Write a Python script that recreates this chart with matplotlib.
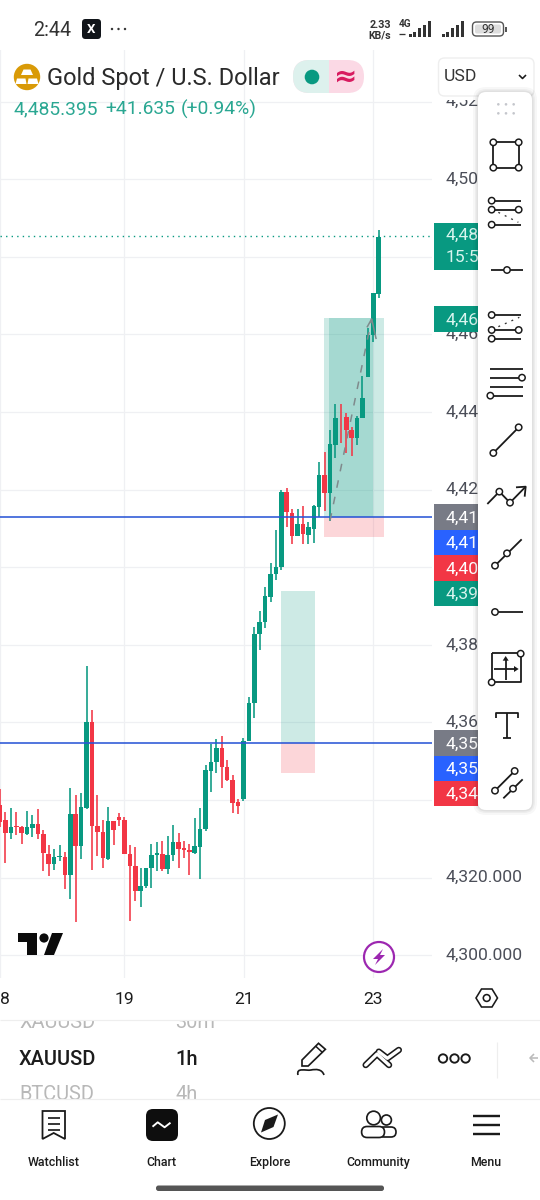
import matplotlib
matplotlib.use("Agg")
import matplotlib.pyplot as plt
from matplotlib.patches import Rectangle, Circle, FancyBboxPatch, Polygon, PathPatch
from matplotlib.path import Path

plt.rcParams['font.family'] = ['Roboto', 'DejaVu Sans']

# ---------- data ----------
opens = [4338.7,4334.9,4331.6,4333.4,4333.1,4331.3,4332.9,4333.8,4331.2,4326.2,4323.4,4325.3,4325.4,4320.7,4336.5,4328.2,
         4338.0,4360.2,4333.3,4331.9,4324.9,4334.7,4335.6,4334.9,4326.2,4323.0,4316.5,4317.9,4322.4,4325.8,4326.2,4322.2,
         4325.8,4329.3,4327.6,4327.2,4326.3,4328.0,4332.5,4347.6,4349.7,4353.4,4348.5,4345.2,4339.6,4340.4,4355.1,4364.9,
         4382.8,4385.8,4392.4,4398.3,4400.0,4419.3,4414.1,4408.1,4411.1,4408.3,4409.9,4415.6,4423.8,4419.2,4431.6,4438.8,
         4438.6,4435.4,4433.3,4438.4,4449.1,4459.9,4470.3]
highs = [4342.9,4337.0,4337.9,4336.9,4333.3,4337.2,4336.2,4337.6,4332.3,4328.3,4327.3,4328.5,4326.5,4343.0,4341.3,4341.8,
         4374.6,4363.3,4341.3,4334.9,4338.3,4334.7,4336.8,4335.7,4328.4,4328.0,4322.4,4322.6,4328.7,4329.3,4329.5,4330.8,
         4333.5,4331.6,4329.4,4328.7,4335.5,4337.9,4349.0,4354.5,4355.8,4356.4,4350.3,4346.4,4340.2,4355.9,4366.5,4384.7,
         4388.6,4394.8,4401.0,4409.6,4419.9,4420.3,4414.9,4414.9,4415.9,4411.6,4416.0,4427.2,4429.6,4435.5,4442.2,4442.2,
         4439.8,4436.1,4439.0,4449.3,4461.6,4470.6,4486.9]
lows = [4333.1,4323.9,4330.0,4331.0,4328.7,4331.0,4330.6,4330.0,4321.6,4320.5,4321.9,4324.4,4317.2,4314.5,4308.5,4324.9,
        4337.7,4322.0,4325.7,4322.6,4324.6,4328.4,4333.4,4326.0,4308.8,4314.1,4312.5,4317.3,4317.4,4321.6,4321.6,4320.9,
        4324.4,4322.4,4325.0,4320.7,4326.0,4319.7,4332.1,4342.1,4346.9,4343.0,4345.0,4336.8,4336.4,4339.8,4355.1,4361.2,
        4378.7,4384.3,4391.1,4396.7,4399.3,4410.5,4406.0,4408.1,4406.0,4406.0,4406.3,4412.9,4414.6,4411.8,4428.1,4432.1,
        4429.4,4428.8,4431.5,4438.4,4449.1,4458.1,4469.5]
closes = [4334.4,4331.6,4333.1,4333.1,4331.6,4333.1,4333.8,4331.2,4326.3,4323.4,4325.3,4325.7,4320.7,4336.5,4328.2,4338.2,
          4360.2,4333.3,4331.7,4325.0,4334.7,4332.3,4334.8,4326.1,4323.0,4316.5,4317.9,4322.6,4325.9,4326.3,4322.2,4325.9,
          4329.3,4327.4,4327.2,4326.5,4328.2,4332.6,4347.8,4349.7,4353.5,4348.4,4345.1,4339.3,4338.5,4355.1,4365.1,4382.8,
          4386.0,4392.6,4398.3,4400.0,4419.3,4414.2,4408.1,4411.1,4408.6,4410.3,4415.8,4423.8,4419.2,4431.8,4438.5,4438.6,
          4435.4,4433.3,4438.5,4443.6,4459.9,4470.6,4485.2]

price_ticks = [4520,4500,4480,4460,4440,4420,4400,4380,4360,4340,4320,4300]
price_labels = ['4,52','4,50','','4,46','4,44','4,42','','4,38','4,36','','4,320.000','4,300.000']
date_ticks = [0.0,23.0,45.05,69.0]
date_labels = ['8','19','21','23']
last_price = 4485.395
levels = [4413.0,4354.7]
long1 = dict(left=59.9,right=71.0,entry=4413.0,target=4464.2,stop=4407.9)
long1b = dict(left=60.8,right=69.0)
long2 = dict(left=51.9,right=58.2,entry=4354.7,target=4394.0,stop=4347.0)
arrow_from = (61.0,4412.0)
arrow_to = (68.7,4464.0)

TEAL='#089981'; RED='#F23645'; BLUE='#2962FF'; GREY='#787B86'; INK='#131722'; TICK='#4b4e58'

fig = plt.figure(figsize=(5.4,12),dpi=100,facecolor='white')
W,H = 540.,1200.
# ---------- chart axes ----------
CR,CT,CB = 432.,50.,978.
ax = fig.add_axes([0,1-CB/H,CR/W,(CB-CT)/H],zorder=1)
ax.set_xlim(0,CR/5.41)
ax.set_ylim(4294.15,4533.3)
for s in ax.spines.values(): s.set_visible(False)
ax.set_yticks(price_ticks); ax.set_yticklabels(price_labels)
ax.set_xticks(date_ticks); ax.set_xticklabels(date_labels)
ax.get_xticklabels()[0].set_ha('left')
ax.yaxis.tick_right()
ax.tick_params(axis='y',length=0,pad=10,labelsize=12.6,labelcolor=TICK)
ax.tick_params(axis='x',length=0,pad=10,labelsize=12.6,labelcolor='#1c1c1c')
for l in ax.get_yticklabels(): l.set_va('center')
ax.grid(True,color='#eff0f3',lw=0.9,zorder=0)
ax.set_axisbelow(True)

idx = list(range(len(opens)))
cols = [TEAL if c>=o else RED for o,c in zip(opens,closes)]
# position tools
ax.add_patch(Rectangle((long1['left'],long1['entry']),long1['right']-long1['left'],long1['target']-long1['entry'],fc=TEAL,alpha=.2,lw=0,zorder=1))
ax.add_patch(Rectangle((long1b['left'],long1['entry']),long1b['right']-long1b['left'],long1['target']-long1['entry'],fc=TEAL,alpha=.2,lw=0,zorder=1))
ax.add_patch(Rectangle((long1['left'],long1['stop']),long1['right']-long1['left'],long1['entry']-long1['stop'],fc=RED,alpha=.2,lw=0,zorder=1))
ax.add_patch(Rectangle((long2['left'],long2['entry']),long2['right']-long2['left'],long2['target']-long2['entry'],fc=TEAL,alpha=.2,lw=0,zorder=1))
ax.add_patch(Rectangle((long2['left'],long2['stop']),long2['right']-long2['left'],long2['entry']-long2['stop'],fc=RED,alpha=.2,lw=0,zorder=1))

ax.vlines(idx,lows,highs,colors=cols,lw=1.15,zorder=3)
ax.bar(idx,[abs(c-o) for o,c in zip(opens,closes)],bottom=[min(o,c) for o,c in zip(opens,closes)],width=.84,color=cols,lw=0,zorder=4)

for lv in levels:
    ax.axhline(lv,color='#2a56d6',lw=1.15,zorder=5)
ax.axhline(last_price,color=TEAL,lw=1.0,ls=(0,(1,3)),zorder=5)
ax.plot(*zip(arrow_from,arrow_to),color='#7f8a8c',lw=1.1,ls=(0,(5,6)),zorder=5)
ax.plot([arrow_to[0]-0.8,arrow_to[0],arrow_to[0]+0.8],[arrow_to[1]-2.0,arrow_to[1],arrow_to[1]-5.0],color='#7f8a8c',lw=1.1,zorder=5)

# ---------- overlay in screen pixels ----------
o = fig.add_axes([0,0,1,1],zorder=2)
o.set_xlim(0,W); o.set_ylim(H,0); o.axis('off'); o.patch.set_alpha(0)
px = .72
def rect(x0,y0,x1,y1,**k):
    k.setdefault('lw',0)
    p=Rectangle((x0,y0),x1-x0,y1-y0,**k); o.add_patch(p); return p
def rrect(x0,y0,x1,y1,r,**k):
    p=FancyBboxPatch((x0+r,y0+r),x1-x0-2*r,y1-y0-2*r,boxstyle=f'round,pad={r},rounding_size={r}',**k); o.add_patch(p); return p
def line(xs,ys,c='#1a1a1a',w=1.8,z=12,**k):
    o.plot(xs,ys,color=c,lw=w*px,zorder=z,solid_capstyle=k.pop('cap','butt'),**k)
def circ(x,y,r=3.2,fc='white',ec='#1a1a1a',w=1.5,z=13):
    o.add_patch(Circle((x,y),r,fc=fc,ec=ec,lw=w*px,zorder=z))
def txt(x,y,s,size,c=INK,ha='left',va='center',**k):
    return o.text(x,y+1,s,fontsize=size,color=c,ha=ha,va=va,**k)

# clip the top price label
rect(433,50,478,100,fc='white',zorder=2)

# status bar
txt(33,30,'2:44',14.2,'#333333')
rrect(82,19,101,39,3.5,fc='#11151a',ec='none',zorder=3)
txt(91.5,28.5,'X',9.5,'white',ha='center',weight='bold',zorder=4)
for x in (112,118.5,125): o.add_patch(Circle((x,29),1.2,fc='#333333',ec='none'))
txt(380,24,'2.33',7.8,'#333333',ha='center',weight='bold')
txt(380,34.5,'KB/s',7.6,'#333333',ha='center',weight='bold')
txt(405,23,'4G',7.2,'#333333',ha='center',weight='bold')
for g,x0 in enumerate((408.5,441.5)):
    for i,h in enumerate((3,5.5,9,12.5,16)):
        rect(x0+i*4.9,37-h,x0+i*4.9+3,37,fc='#333333')
line([399,405],[34,34],'#333333',1.3)
rrect(472.5,22,503.5,36,4,fc='white',ec='#555555',lw=1)
rrect(475,24.5,501,33.5,2,fc='#dddddd',ec='none',zorder=3)
txt(488,28.5,'99',8.6,'#333333',ha='center',zorder=4)
rect(505,26.5,507,32,fc='#555555')

# header
o.add_patch(Circle((27,77),13.2,fc='#D99A07',ec='none',zorder=4))
for pts in ([(23.5,69.5),(30.5,69.5),(33,75),(21,75)],[(17,78.5),(25.5,78.5),(26.5,84),(15.5,84)],[(28.5,78.5),(37,78.5),(38.5,84),(27.5,84)]):
    o.add_patch(Polygon(pts,fc='white',ec='none',zorder=5))
txt(47,77,'Gold Spot / U.S. Dollar',17.0,'#2a2a2a')
txt(13,108,'4,485.395',13.9,'#2aa792')
txt(105.5,108,'+41.635',13.9,'#2aa792')
txt(180.5,108,'(+0.94%)',13.9,'#2aa792')
rrect(293,60,364,93,16.5,fc='#FBD9E5',ec='none',zorder=3)
clip=Rectangle((293,60),36,33,transform=o.transData)
b=rrect(293,60,364,93,16.5,fc='#DDF1ED',ec='none',zorder=3); b.set_clip_path(clip)
o.add_patch(Circle((312,77),7.3,fc=TEAL,ec='none',zorder=4))
txt(345.5,75.5,'≈',20,'#D81B60',ha='center',zorder=4,weight='bold',family=['DejaVu Sans'])
rrect(438.5,58,534,96,6,fc='white',ec='#eeeeee',lw=1,zorder=6)
txt(444,75.5,'USD',12.6,'#333333',zorder=7)
line([519,522.5,526],[75,78.5,75],'#1a1a1a',1.6,z=7)

# price labels
labels = [(223,270,TEAL,[('4,48',234),('15:5',256)]),(306,332,TEAL,[('4,46',319)]),
          (504,529.5,GREY,[('4,41',517)]),(529.5,555,BLUE,[('4,41',542)]),(555,581,RED,[('4,40',568)]),(581,606,TEAL,[('4,39',593.5)]),
          (730,755.5,GREY,[('4,35',743)]),(755.5,781,BLUE,[('4,35',768)]),(781,806,RED,[('4,34',793.5)])]
for y0,y1,c,ts in labels:
    rect(433.5,y0,478,y1,fc=c,zorder=5)
    for s,y in ts:
        txt(446,y,s,12.6,'#ffffff' if c!=TEAL else '#d9f5ef',zorder=6)

# drawing tool panel
for g,a in ((5,.03),(3,.04),(1.5,.05)):
    rrect(478-g,92-g,532+g,810+g,8+g,fc='black',ec='none',alpha=a,zorder=8)
rrect(478,92,532,810,8,fc='white',ec='none',zorder=9)
X=lambda z:430+z/3
Y5=lambda z:90+z/3
Y6=lambda z:470+z/3
for zy in (43,70):
    for zx in (205,228,251):
        o.add_patch(Circle((X(zx),Y5(zy)),1.3,fc='#c4c6cc',ec='none',zorder=12))
# rectangle
line([X(190),X(266),X(266),X(190),X(190)],[Y5(157),Y5(157),Y5(233),Y5(233),Y5(157)])
for a_,b_ in ((190,157),(266,157),(190,233),(266,233)): circ(X(a_),Y5(b_))
# channel 1
for zy in (332,359,404): line([X(180),X(272)],[Y5(zy)]*2)
line([X(205),X(265)],[Y5(367),Y5(397)],'#333333',1.3,ls=(0,(1.5,4)))
for a_,b_ in ((185,332),(185,359),(266,359),(185,404)): circ(X(a_),Y5(b_))
# single
line([X(184),X(278)],[Y5(540)]*2); circ(X(231),Y5(540))
# channel 2
for zy in (675,720,746): line([X(180),X(272)],[Y5(zy)]*2)
line([X(205),X(268)],[Y5(710),Y5(682)],'#333333',1.3,ls=(0,(1.5,4)))
for a_,b_ in ((185,675),(185,720),(266,720),(185,746)): circ(X(a_),Y5(b_))
# four lines
for zy in (836,863,890,917): line([X(180),X(278)],[Y5(zy)]*2)
circ(X(276),Y5(863)); circ(X(181),Y5(917))
# trend
line([X(190),X(266)],[Y5(1089),Y5(1012)]); circ(X(190),Y5(1089)); circ(X(266),Y5(1012))
# path arrow
line([X(172),X(208),X(240),X(287)],[Y6(102),Y6(65),Y6(98),Y6(50)])
line([X(258),X(287),X(284)],[Y6(52),Y6(50),Y6(80)])
circ(X(208),Y6(65)); circ(X(240),Y6(98))
# ray
line([X(195),X(275)],[Y6(287),Y6(208)]); circ(X(195),Y6(287)); circ(X(231),Y6(250))
line([X(195),X(278)],[Y6(426)]*2); circ(X(195),Y6(426))
# box with arrows
line([X(185),X(272),X(272),X(185),X(185)],[Y6(550),Y6(550),Y6(637),Y6(637),Y6(550)])
line([X(227),X(227)],[Y6(630),Y6(570)]); line([X(192),X(255)],[Y6(597)]*2)
o.add_patch(Polygon([(X(218),Y6(572)),(X(236),Y6(572)),(X(227),Y6(558))],fc='#1a1a1a',ec='none',zorder=12))
o.add_patch(Polygon([(X(252),Y6(588)),(X(252),Y6(606)),(X(266),Y6(597))],fc='#1a1a1a',ec='none',zorder=12))
circ(X(272),Y6(551)); circ(X(185),Y6(637))
# T
line([X(198),X(198),X(265),X(265)],[Y6(745),Y6(730),Y6(730),Y6(745)])
line([X(231),X(231)],[Y6(730),Y6(803)]); line([X(220),X(242)],[Y6(803)]*2)
# parallel
line([X(195),X(254)],[Y6(962),Y6(903)]); circ(X(195),Y6(962)); circ(X(254),Y6(903))
line([X(220),X(278)],[Y6(985),Y6(928)]); circ(X(249),Y6(956))

# TV logo
o.add_patch(Polygon([(18,933),(37,933),(37,955),(27,955),(27,942),(18,942)],fc='#0b0b0b',ec='none',zorder=4))
o.add_patch(Circle((44,938),4.6,fc='#0b0b0b',ec='none',zorder=4))
o.add_patch(Polygon([(52,933),(63,933),(54,955),(44,955)],fc='#0b0b0b',ec='none',zorder=4))
# bolt
o.add_patch(Circle((379,957),15,fc='white',ec='#9C27B0',lw=2.2*px,zorder=4))
o.add_patch(Polygon([(383,949),(373,959),(378,959),(375,965),(385,955),(380,955)],fc='#9C27B0',ec='none',zorder=5))
# settings hex
o.add_patch(Polygon([(476,998),(481.5,989),(492,989),(497.5,998),(492,1007),(481.5,1007)],fc='white',ec='#1a1a1a',lw=1.6*px,zorder=4))
o.add_patch(Circle((486.7,998),3.4,fc='white',ec='#1a1a1a',lw=1.6*px,zorder=5))

# bottom toolbar: faded neighbours of the picker are cut by the separators
t=txt(19,1022,'XAUUSD',14.4,'#b8b8b8'); u=txt(175.5,1022,'30m',14.4,'#b8b8b8')
v=txt(19,1094,'BTCUSD',14.4,'#b8b8b8'); w=txt(175.5,1094,'4h',14.4,'#b8b8b8')
for a_ in (t,u):
    a_.set_clip_on(True); a_.set_clip_path(Rectangle((0,1019.5),540,30,transform=o.transData))
for a_ in (v,w):
    a_.set_clip_on(True); a_.set_clip_path(Rectangle((0,1075),540,24,transform=o.transData))
txt(19,1058.5,'XAUUSD',14.4,'#1c1c1c',weight='medium')
txt(175.5,1058.5,'1h',14.4,'#1c1c1c',weight='medium')
line([0,540],[1019.5]*2,'#eeeeee',1.2)
line([0,540],[1098.5]*2,'#eeeeee',1.2)
# pencil
o.add_patch(Polygon([(302,1060),(318.5,1043.3),(325.4,1049.3),(308.2,1066),(302,1066)],fc='white',ec='#1a1a1a',lw=1.7*px,zorder=5))
line([315.8,322.7],[1046.3,1052.7],'#1a1a1a',1.5)
o.add_patch(PathPatch(Path([(298,1075),(296,1067),(306,1071),(311,1070),(316,1069),(322,1069),(324,1075)],[1,4,4,4,4,4,4]),fc='none',ec='#1a1a1a',lw=1.7*px,zorder=5))
# chevrons
for xs,ys in (([365.7,377,389],[1065,1054,1065]),([378.8,387.4,398.8],[1051.7,1058.3,1050])):
    o.plot(xs,ys,color='#1a1a1a',lw=6.5*px,solid_capstyle='round',solid_joinstyle='round',zorder=5)
    o.plot(xs,ys,color='white',lw=3.3*px,solid_capstyle='round',solid_joinstyle='round',zorder=6)
for x in (443,454.5,465.6): circ(x,1058.5,4.2,w=1.9,z=5)
line([497,497],[1042,1078],'#eeeeee',1.2)
line([530,538],[1058,1058],'#bbbbbb',1.6); line([534,530,534],[1054,1058,1062],'#bbbbbb',1.6)
# nav
o.add_patch(Polygon([(42.5,1111),(65,1111),(65,1139),(53.7,1133),(42.5,1139)],fc='white',ec='#1a1a1a',lw=1.8*px,zorder=4))
for y in (1117.5,1123.5,1129.5): line([47.5,60],[y,y],'#1a1a1a',1.7)
rrect(146,1109,178,1141,7,fc='#0e0e0e',ec='none',zorder=4)
line([152.5,157.7,164.6,170.5],[1126.7,1122.3,1127.3,1122.7],'white',1.9)
o.add_patch(Circle((269.3,1123.5),15.5,fc='white',ec='#1a1a1a',lw=1.8*px,zorder=4))
o.add_patch(Polygon([(278,1114.5),(273.5,1127),(261,1132.5),(265,1120)],fc='#1a1a1a',ec='none',zorder=5))
o.add_patch(Circle((373.6,1118),6.8,fc='white',ec='#1a1a1a',lw=1.7*px,zorder=5))
o.add_patch(Circle((386.4,1120),5,fc='white',ec='#1a1a1a',lw=1.7*px,zorder=5))
rrect(379,1127,396,1137,5,fc='white',ec='#1a1a1a',lw=1.7*px,zorder=4)
rrect(361.6,1126.5,384.5,1137.5,5.5,fc='white',ec='#1a1a1a',lw=1.7*px,zorder=5)
for y in (1115.7,1125,1134): line([473,500],[y,y],'#1a1a1a',2.4)
for x,s in ((53.7,'Watchlist'),(161,'Chart'),(270,'Explore'),(378,'Community'),(485.5,'Menu')):
    txt(x,1161.5,s,8.9,'#1c1c1c',ha='center',weight='medium')
rrect(156,1185.5,384,1191,2.5,fc='#555555',ec='none',zorder=4)

fig.savefig('out.png',dpi=100,facecolor='white')
